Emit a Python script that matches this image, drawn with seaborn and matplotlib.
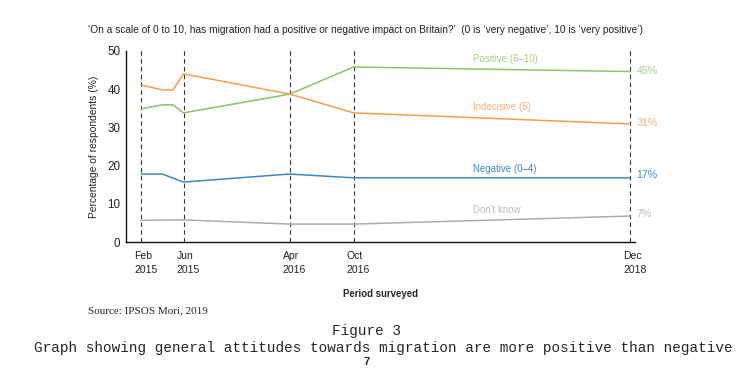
import matplotlib.pyplot as plt
import pandas as pd
import seaborn as sns

# Survey points, x given as months since Feb 2015
pos_months = [0, 2, 3, 4, 14, 20, 46]
pos_values = [34.8, 35.9, 35.9, 33.8, 38.7, 45.8, 44.6]

ind_months = [0, 2, 3, 4, 14, 20, 46]
ind_values = [41.1, 39.8, 39.8, 44.0, 38.7, 33.8, 30.9]

neg_months = [0, 2, 4, 14, 20, 46]
neg_values = [17.8, 17.8, 15.7, 17.8, 16.8, 16.8]

dk_months = [0, 4, 14, 20, 46]
dk_values = [5.7, 5.8, 4.7, 4.7, 6.8]

series_names = ["Positive (6–10)", "Indecisive (5)", "Negative (0–4)", "Don't know"]
end_labels = ["45%", "31%", "17%", "7%"]
line_colors = ["#8cc36a", "#f7a04a", "#3c88c8", "#acacac"]
text_colors = ["#a3cf86", "#f8b071", "#3c88c8", "#bdbdbd"]

survey_months = [0, 4, 14, 20, 46]
survey_labels = ["Feb\n2015", "Jun\n2015", "Apr\n2016", "Oct\n2016", "Dec\n2018"]

frames = []
for name, m, v in zip(series_names,
                      [pos_months, ind_months, neg_months, dk_months],
                      [pos_values, ind_values, neg_values, dk_values]):
    frames.append(pd.DataFrame({"month": m, "value": v, "series": name}))
df = pd.concat(frames, ignore_index=True)

sns.set_style("white")
plt.rcParams["font.family"] = ["Liberation Sans", "DejaVu Sans"]

fig = plt.figure(figsize=(7.37, 3.69), dpi=100)
ax = fig.add_axes([0.171, 0.344, 0.691, 0.518])

for x in survey_months:
    ax.vlines(x, 0, 50.3, colors="#333333", linestyles=(0, (4, 3)), linewidth=0.8, zorder=1)

sns.lineplot(data=df, x="month", y="value", hue="series", hue_order=series_names,
             palette=line_colors, linewidth=1.1, legend=False, ax=ax, zorder=3)

# series names above the lines, end values on the right
name_y = [46.6, 34.1, 17.9, 7.1]
end_y = [44.8, 31.2, 17.5, 7.3]
for name, ny, lab, ey, c in zip(series_names, name_y, end_labels, end_y, text_colors):
    ax.text(31.2, ny, name, color=c, fontsize=7, va="bottom", ha="left")
    ax.text(46.6, ey, lab, color=c, fontsize=7.6, va="center", ha="left", clip_on=False)

ax.set_xlim(-1.41, 46.5)
ax.set_ylim(0, 50)
ax.set_yticks([0, 10, 20, 30, 40, 50])
ax.set_xticks(survey_months)
ax.set_xticklabels([])
# date labels sit a little left of their tick
for x, lab in zip(survey_months, survey_labels):
    ax.annotate(lab, xy=(x, 0), xycoords=("data", "axes fraction"),
                xytext=(-5, -6.5), textcoords="offset points", ha="left", va="top",
                fontsize=7.5, linespacing=1.45, color="#222222")
ax.tick_params(axis="x", length=2, width=0.6, colors="#222222")
ax.tick_params(axis="y", length=0, pad=4, labelsize=8.4, colors="#222222")
for s in ["top", "right"]:
    ax.spines[s].set_visible(False)
for s in ["left", "bottom"]:
    ax.spines[s].set_color("#111111")
    ax.spines[s].set_linewidth(1.0)

ax.set_xlabel("Period surveyed", fontsize=6.9, fontweight="bold", labelpad=28)
ax.set_ylabel("Percentage of respondents (%)", fontsize=7.4, labelpad=6)

fig.text(0.119, 0.918,
         "‘On a scale of 0 to 10, has migration had a positive or negative impact on Britain?’"
         "  (0 is ‘very negative’, 10 is ‘very positive’)",
         fontsize=7.25, ha="left", va="center", color="#222222")

fig.text(0.119, 0.157, "Source: IPSOS Mori, 2019", family="Liberation Serif",
         fontsize=8, ha="left", va="center")
fig.text(0.497, 0.103, "Figure 3", family="Liberation Mono", fontsize=10.4,
         ha="center", va="center")
fig.text(0.52, 0.057,
         "Graph showing general attitudes towards migration are more positive than negative",
         family="Liberation Mono", fontsize=10.4, ha="center", va="center")
fig.text(0.497, 0.019, "7", fontsize=8, fontweight="bold", ha="center", va="center")

fig.savefig("out.png", dpi=100)
